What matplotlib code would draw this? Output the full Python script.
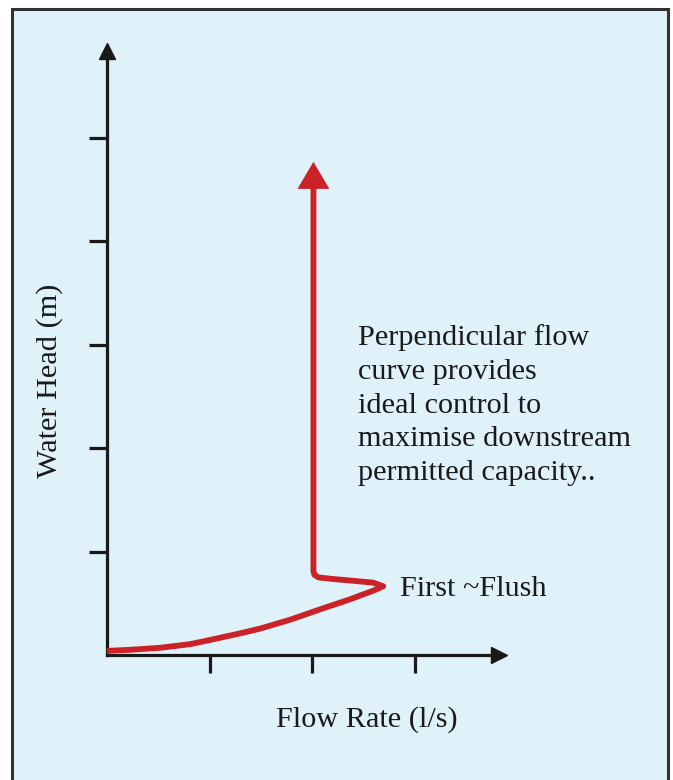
import matplotlib.pyplot as plt
from matplotlib.patches import Rectangle

# curve (axis units = tick spacing)
flow = [0.0, 0.22, 0.52, 0.81, 1.0, 1.30, 1.49, 1.78, 2.07, 2.37, 2.60, 2.69,
        2.59, 2.37, 2.20, 2.06, 2.02, 2.01, 2.01]
head = [0.04, 0.05, 0.07, 0.105, 0.145, 0.21, 0.255, 0.34, 0.44, 0.54, 0.625, 0.665,
        0.70, 0.72, 0.735, 0.75, 0.775, 0.81, 4.52]
arrow_tip = 4.77
x_ticks = [1, 2, 3]
y_ticks = [1, 2, 3, 4, 5]
note = "Perpendicular flow\ncurve provides\nideal control to\nmaximise downstream\npermitted capacity.."
flush_label = "First ~Flush"

W, H = 673, 780
bg = '#dff1f9'
red = '#cc2127'

fig = plt.figure(figsize=(W / 100, H / 100), dpi=100)
fig.patch.set_facecolor('white')
fig.patches.append(Rectangle((12 / W, -0.05), 656 / W, (H - 9) / H + 0.05,
                             transform=fig.transFigure, facecolor=bg,
                             edgecolor='#333333', lw=2.2, zorder=-5))

x0, y0 = 107, 655
ux, uy = 102.7, 103.4
xmax, ymax = 3.817, 5.84
ax = fig.add_axes([x0 / W, (H - y0) / H, xmax * ux / W, ymax * uy / H])
ax.set_zorder(2)
ax.set_xlim(0, xmax)
ax.set_ylim(0, ymax)
ax.patch.set_alpha(0)
for s in ['top', 'right']:
    ax.spines[s].set_visible(False)
for s in ['left', 'bottom']:
    ax.spines[s].set_linewidth(2.3)
    ax.spines[s].set_color('#1a1a1a')
ax.set_xticks(x_ticks)
ax.set_yticks(y_ticks)
ax.set_xticklabels([])
ax.set_yticklabels([])
ax.tick_params(direction='out', length=13, width=2.3, color='#1a1a1a')

# axis arrow heads
ax.plot([xmax], [0], marker='>', ms=11.5, color='#1a1a1a', clip_on=False)
ax.plot([0], [ymax], marker='^', ms=11.5, color='#1a1a1a', clip_on=False)

ax.plot(flow, head, color=red, lw=4.2, solid_joinstyle='round',
        solid_capstyle='butt', clip_on=False, zorder=3)
ax.annotate('', xy=(flow[-1], arrow_tip), xytext=(flow[-1], head[-1] - 0.05),
            arrowprops=dict(arrowstyle='-|>,head_length=1.95,head_width=1.15',
                            color=red, lw=0, shrinkA=0, shrinkB=0))

serif = 'Liberation Serif'
fs = 21.8
ax.text(2.44, 3.20, note, family=serif, fontsize=fs, va='top',
        linespacing=1.39, color='#1a1a1a')
ax.text(2.85, 0.64, flush_label, family=serif, fontsize=fs, va='center',
        color='#1a1a1a')
fig.text(367 / W, 1 - 720 / H, 'Flow Rate (l/s)', family=serif, fontsize=fs,
         ha='center', va='center', color='#1a1a1a')
fig.text(50 / W, 1 - 381 / H, 'Water Head (m)', family=serif, fontsize=fs,
         ha='center', va='center', rotation=90, color='#1a1a1a')

fig.savefig('out.png', dpi=100, facecolor=fig.get_facecolor())
